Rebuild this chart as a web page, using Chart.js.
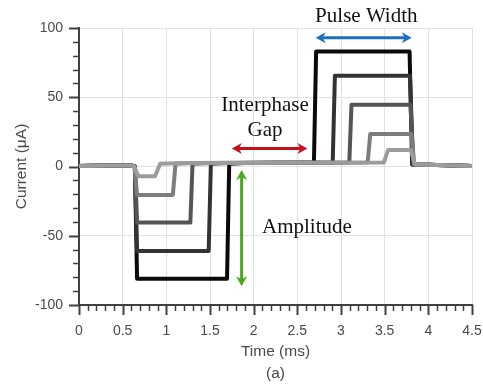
<!DOCTYPE html>
<html><head><meta charset="utf-8">
<script src="https://cdn.jsdelivr.net/npm/chart.js@4.4.1/dist/chart.umd.min.js"></script>
<style>html,body{margin:0;padding:0;background:#fff}#wrap{width:483px;height:387px}</style>
</head><body><div id="wrap"><canvas id="c" width="483" height="387"></canvas></div>
<script>
// ---- Data (time in ms, current in µA) ----
const timeA    = [0, 0.3, 0.6, 0.63, 0.68, 0.87, 0.93, 1.2, 3.49, 3.54, 3.80, 3.845, 4.0, 4.5];
const currentA = [0.3, 0.8, 0.8, 0, -7, -7, 2, 2.5, 2.8, 12, 12, 1.5, 1.2, 0.3];

const timeB    = [0, 0.3, 0.6, 0.635, 0.665, 1.075, 1.105, 1.3, 3.305, 3.335, 3.805, 3.84, 4.0, 4.5];
const currentB = [0.3, 0.8, 0.8, 0, -20.5, -20.5, 2, 2.5, 2.8, 23.5, 23.5, 1.5, 1.2, 0.3];

const timeC    = [0, 0.3, 0.6, 0.64, 0.665, 1.275, 1.3, 1.5, 3.095, 3.12, 3.795, 3.83, 4.0, 4.5];
const currentC = [0.3, 0.8, 0.8, 0, -40.5, -40.5, 2, 2.5, 2.8, 44.5, 44.5, 1.5, 1.2, 0.3];

const timeD    = [0, 0.3, 0.6, 0.64, 0.665, 1.485, 1.51, 1.7, 2.905, 2.93, 3.79, 3.825, 4.0, 4.5];
const currentD = [0.3, 0.8, 0.8, 0, -61, -61, 2, 2.5, 2.8, 65.5, 65.5, 1.5, 1.2, 0.3];

const timeE    = [0, 0.3, 0.6, 0.64, 0.665, 1.695, 1.72, 1.9, 2.69, 2.715, 3.785, 3.815, 4.0, 4.5];
const currentE = [0.3, 0.8, 0.8, 0, -81, -81, 2, 2.5, 2.8, 83, 83, 1.5, 1.2, 0.3];

const xTickValues = [0, 0.5, 1, 1.5, 2, 2.5, 3, 3.5, 4, 4.5];
const yTickValues = [-100, -50, 0, 50, 100];

// annotation anchors (data units)
const pulseWidthArrowX = [2.71, 3.81], pulseWidthArrowY = 93;
const gapArrowX = [1.75, 2.615], gapArrowY = 13;
const ampArrowX = 1.862, ampArrowY = [-2.5, -86.5];
const labelTexts = ['Pulse Width', 'Interphase', 'Gap', 'Amplitude'];
const labelX = [3.29, 2.13, 2.13, 2.61];
const labelY = [108, 44, 26, -44.3];

// ---- build ----
const toPts = (t, v) => t.map((x, i) => ({x, y: v[i]}));
const seriesList = [
  {t: timeA, v: currentA, c: '#9c9c9c'},
  {t: timeB, v: currentB, c: '#7d7d7d'},
  {t: timeC, v: currentC, c: '#555555'},
  {t: timeD, v: currentD, c: '#333333'},
  {t: timeE, v: currentE, c: '#0a0a0a'}
];
const datasets = seriesList.map(s => ({
  data: toPts(s.t, s.v), borderColor: s.c, borderWidth: 4, pointRadius: 0,
  showLine: true, fill: false, tension: 0, borderJoinStyle: 'round', borderCapStyle: 'round'
}));

function arrowHead(ctx, tx, ty, ux, uy, len, hw, color) {
  const bx = tx - ux * len, by = ty - uy * len;
  const nx = tx - ux * len * 0.7, ny = ty - uy * len * 0.7;
  ctx.fillStyle = color;
  ctx.beginPath();
  ctx.moveTo(tx, ty);
  ctx.lineTo(bx - uy * hw, by + ux * hw);
  ctx.lineTo(nx, ny);
  ctx.lineTo(bx + uy * hw, by - ux * hw);
  ctx.closePath();
  ctx.fill();
}
function dblArrow(ctx, x0, y0, x1, y1, color) {
  const L = Math.hypot(x1 - x0, y1 - y0), ux = (x1 - x0) / L, uy = (y1 - y0) / L;
  const len = 10, hw = 5.5;
  ctx.strokeStyle = color; ctx.lineWidth = 3;
  ctx.beginPath();
  ctx.moveTo(x0 + ux * len * 0.6, y0 + uy * len * 0.6);
  ctx.lineTo(x1 - ux * len * 0.6, y1 - uy * len * 0.6);
  ctx.stroke();
  arrowHead(ctx, x1, y1, ux, uy, len, hw, color);
  arrowHead(ctx, x0, y0, -ux, -uy, len, hw, color);
}

const deco = {
  id: 'deco',
  afterDatasetsDraw(chart) {
    const {ctx, scales: {x, y}} = chart;
    ctx.save();
    dblArrow(ctx, x.getPixelForValue(pulseWidthArrowX[0]), y.getPixelForValue(pulseWidthArrowY),
                  x.getPixelForValue(pulseWidthArrowX[1]), y.getPixelForValue(pulseWidthArrowY), '#1f6fbf');
    dblArrow(ctx, x.getPixelForValue(gapArrowX[0]), y.getPixelForValue(gapArrowY),
                  x.getPixelForValue(gapArrowX[1]), y.getPixelForValue(gapArrowY), '#c8101a');
    dblArrow(ctx, x.getPixelForValue(ampArrowX), y.getPixelForValue(ampArrowY[0]),
                  x.getPixelForValue(ampArrowX), y.getPixelForValue(ampArrowY[1]), '#4aa81c');
    ctx.fillStyle = '#111';
    ctx.font = '21px "Liberation Serif", "Times New Roman", serif';
    ctx.textAlign = 'center'; ctx.textBaseline = 'middle';
    labelTexts.forEach((t, i) => ctx.fillText(t, x.getPixelForValue(labelX[i]), y.getPixelForValue(labelY[i])));
    ctx.restore();
  },
  afterDraw(chart) {
    const {ctx, chartArea: a, scales: {x, y}} = chart;
    ctx.save();
    ctx.strokeStyle = '#404040';
    for (let k = 0; k <= 45; k++) {
      const px = Math.round(x.getPixelForValue(k / 10)) + 0.5;
      const major = k % 5 === 0;
      ctx.lineWidth = major ? 2 : 1.5;
      ctx.beginPath(); ctx.moveTo(px, a.bottom); ctx.lineTo(px, a.bottom + (major ? 10 : 6)); ctx.stroke();
    }
    for (let k = -10; k <= 10; k++) {
      const py = Math.round(y.getPixelForValue(k * 10)) + 0.5;
      const major = k % 5 === 0;
      ctx.lineWidth = major ? 2 : 1.5;
      ctx.beginPath(); ctx.moveTo(a.left, py); ctx.lineTo(a.left - (major ? 10 : 6), py); ctx.stroke();
    }
    ctx.restore();
  }
};

const tickFont = {family: '"Liberation Sans", Arial, sans-serif', size: 14};
const titleFont = {family: '"Liberation Sans", Arial, sans-serif', size: 15.5};

new Chart(document.getElementById('c'), {
  type: 'line',
  data: {datasets},
  options: {
    responsive: false, animation: false, devicePixelRatio: 1,
    layout: {padding: {top: 28, right: 11, bottom: 0, left: 0}},
    plugins: {legend: {display: false}, tooltip: {enabled: false}},
    scales: {
      x: {
        type: 'linear', min: 0, max: 4.5,
        afterBuildTicks: s => { s.ticks = xTickValues.map(v => ({value: v})); },
        afterFit: s => { s.height = 82; s.paddingLeft = 0; s.paddingRight = 0; },
        grid: {color: '#e2e2e2', lineWidth: 1, drawTicks: false},
        border: {color: '#404040', width: 2},
        ticks: {padding: 18, color: '#4a4a4a', font: tickFont, maxRotation: 0, autoSkip: false,
                callback: v => String(v)},
        title: {display: true, text: ['Time (ms)', '(a)'], color: '#4a4a4a',
                font: {...titleFont, lineHeight: 1.42}, padding: {top: 0, bottom: 2}}
      },
      y: {
        type: 'linear', min: -100, max: 100,
        afterBuildTicks: s => { s.ticks = yTickValues.map(v => ({value: v})); },
        afterFit: s => { s.width = 79; s.paddingTop = 0; s.paddingBottom = 0; },
        grid: {color: '#e2e2e2', lineWidth: 1, drawTicks: false},
        border: {color: '#404040', width: 2},
        ticks: {padding: 16, color: '#4a4a4a', font: tickFont, callback: v => String(v)},
        title: {display: true, text: 'Current (μA)', color: '#4a4a4a', font: titleFont, padding: {top: 12.5, bottom: 0}}
      }
    }
  },
  plugins: [deco]
});
</script>
</body></html>
